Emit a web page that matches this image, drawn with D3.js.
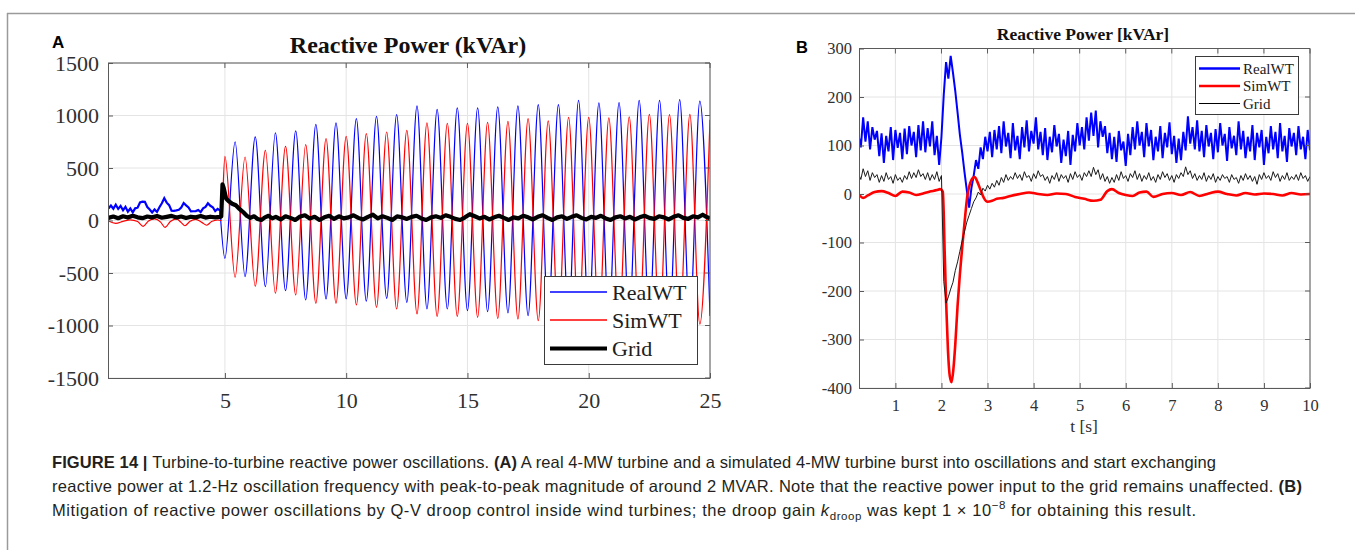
<!DOCTYPE html>
<html>
<head>
<meta charset="utf-8">
<script src="https://cdn.jsdelivr.net/npm/d3@7"></script>
<style>
  body { margin: 0; background: #fff; }
  svg { display: block; }
</style>
</head>
<body>
<script>

// ---------- Panel A data (kVAr vs s) ----------
// RealWT before the event, one value every 0.1 s from 0.2 s
const aPreStart = 0.2, aPreStep = 0.1
const realPreA = [115, 142, 112, 150, 110, 138, 98, 130, 84, 114, 78, 116, 122, 172, 180, 178, 128, 104, 76, 106,
  82, 126, 164, 212, 170, 146, 94, 92, 96, 102, 124, 166, 144, 124, 86, 88, 90, 100, 80, 116,
  130, 164, 140, 126, 90, 110, 96]
const simPreA = [[0.2, -5], [0.5, -28], [0.8, -8], [1.1, 6], [1.4, -10], [1.63, -55], [1.85, -5], [2.1, 15], [2.35, -15],
  [2.53, -65], [2.75, -10], [3.0, 15], [3.2, -20], [3.35, -50], [3.55, -10], [3.8, 10], [4.05, -18], [4.25, -45],
  [4.45, -10], [4.7, 5], [4.85, 0]]
// turning points of the oscillation (peaks and troughs)
const extT = [5.00, 5.42, 5.83, 6.25, 6.67, 7.08, 7.50, 7.92, 8.33, 8.75, 9.17, 9.58, 10.00, 10.42, 10.83, 11.25,
  11.67, 12.08, 12.50, 12.92, 13.33, 13.75, 14.17, 14.58, 15.00, 15.42, 15.83, 16.25, 16.67, 17.08, 17.50, 17.92,
  18.33, 18.75, 19.17, 19.58, 20.00, 20.42, 20.83, 21.25, 21.67, 22.08, 22.50, 22.92, 23.33, 23.75, 24.17, 24.58, 25.00]
const realExtA = [-360, 748, -534, 796, -630, 834, -668, 853, -757, 916, -747, 929, -747, 970, -768, 992,
  -741, 1008, -779, 1091, -843, 1059, -843, 1072, -859, 1072, -868, 1082, -880, 1091, -906, 1104,
  -910, 1104, -915, 1145, -920, 1120, -925, 1123, -930, 1145, -930, 1145, -935, 1152, -935, 1136, -910]
const simExtA = [610, -540, 605, -626, 668, -693, 706, -709, 722, -788, 780, -788, 802, -804, 827, -826,
  843, -843, 859, -890, 929, -913, 925, -913, 925, -922, 935, -932, 945, -938, 970, -954,
  948, -960, 983, -965, 983, -970, 977, -975, 986, -978, 1011, -980, 1008, -982, 1011, -986, 960]
const gridA = [[0.2, 25], [0.4, 38], [0.6, 22], [0.8, 40], [1.0, 28], [1.2, 45], [1.4, 30], [1.6, 22], [1.8, 38],
  [2.0, 30], [2.2, 42], [2.4, 26], [2.6, 35], [2.8, 44], [3.0, 28], [3.2, 38], [3.4, 24], [3.6, 36], [3.8, 30],
  [4.0, 42], [4.2, 28], [4.4, 36], [4.6, 30], [4.8, 34], [4.85, 40], [4.9, 345], [4.95, 310], [5.05, 210],
  [5.15, 185], [5.3, 160], [5.45, 145], [5.6, 110], [5.75, 80], [5.9, 45], [6.05, 25], [6.2, 40], [6.35, 15],
  [6.5, 5], [6.65, 30], [6.8, 45], [6.95, 20], [7.1, 35], [7.3, 10], [7.5, 40], [7.7, 25], [7.9, 5], [8.1, 38],
  [8.3, 50], [8.5, 20], [8.7, 35], [8.9, 5], [9.1, 30], [9.3, 45], [9.5, 15], [9.7, 40], [9.9, 20], [10.1, 30],
  [10.3, 50], [10.5, 25], [10.7, 10], [10.9, 35], [11.1, 55], [11.3, 20], [11.5, 40], [11.7, 25], [11.9, 5],
  [12.1, 40], [12.3, 30], [12.5, 15], [12.7, 35], [12.9, 45], [13.1, 20], [13.3, 5], [13.5, 30], [13.7, 40],
  [13.9, 25], [14.1, 50], [14.3, 35], [14.5, 15], [14.7, 5], [14.9, 30], [15.1, 60], [15.3, 40], [15.5, 20],
  [15.7, 35], [15.9, 10], [16.1, 30], [16.3, 45], [16.5, 25], [16.7, 5], [16.9, 30], [17.1, 20], [17.3, 45],
  [17.5, 30], [17.7, 10], [17.9, 35], [18.1, 50], [18.3, 25], [18.5, 5], [18.7, 30], [18.9, 40], [19.1, 15],
  [19.3, 35], [19.5, 50], [19.7, 25], [19.9, 10], [20.1, 35], [20.3, 25], [20.5, 45], [20.7, 20], [20.9, 5],
  [21.1, 30], [21.3, 40], [21.5, 20], [21.7, 35], [21.9, 10], [22.1, 30], [22.3, 45], [22.5, 25], [22.7, 15],
  [22.9, 40], [23.1, 30], [23.3, 10], [23.5, 35], [23.7, 50], [23.9, 25], [24.1, 15], [24.3, 40], [24.5, 30],
  [24.7, 55], [24.85, 35], [25.0, 20]]
const xTicksA = [5, 10, 15, 20, 25]
const yTicksA = [-1500, -1000, -500, 0, 500, 1000, 1500]

// ---------- Panel B data, one sample every 0.05 s from 0.2 s ----------
const bStart = 0.2, bStep = 0.05
const realB = [
  122, 96, 158, 108, 150, 92, 138, 112, 130, 78,
  125, 64, 120, 88, 138, 70, 132, 95, 126, 72,
  135, 82, 140, 100, 128, 76, 142, 90, 150, 86,
  136, 98, 150, 80, 120, 60, 118, 205, 272, 238,
  285, 250, 212, 168, 122, 86, 45, 8, -28, 12,
  38, 70, 52, 96, 72, 118, 88, 128, 76, 132,
  92, 140, 84, 150, 98, 126, 74, 146, 90, 120,
  72, 138, 96, 152, 88, 130, 104, 158, 92, 128,
  80, 136, 70, 118, 86, 142, 98, 124, 64, 112,
  78, 130, 60, 122, 88, 146, 100, 138, 92, 158,
  110, 168, 120, 172, 96, 150, 118, 140, 84, 126,
  72, 118, 66, 130, 90, 108, 58, 124, 80, 138,
  92, 150, 100, 128, 76, 146, 98, 132, 70, 118,
  88, 140, 74, 126, 96, 148, 82, 120, 64, 114,
  70, 128, 90, 160, 104, 138, 92, 152, 88, 130,
  76, 142, 98, 126, 72, 134, 86, 146, 100, 124,
  68, 138, 94, 120, 80, 150, 92, 130, 74, 118,
  88, 142, 70, 126, 96, 132, 60, 118, 84, 140,
  92, 128, 74, 146, 88, 120, 66, 136, 98, 126,
  80, 140, 92, 118, 72, 132, 90]
const gridB = [
  42, 30, 52, 36, 48, 28, 44, 34, 40, 24,
  38, 26, 44, 30, 36, 22, 40, 28, 34, 24,
  38, 30, 46, 32, 44, 34, 50, 36, 42, 30,
  44, 28, 40, 30, 46, 26, 38, -180, -225, -212,
  -196, -182, -158, -140, -118, -96, -78, -58, -44, -30,
  -16, -8, 4, -2, 12, 6, 18, 10, 22, 14,
  28, 18, 34, 24, 40, 28, 36, 30, 44, 32,
  40, 28, 46, 34, 38, 26, 42, 32, 48, 36,
  40, 28, 36, 22, 38, 30, 44, 26, 40, 32,
  38, 24, 42, 30, 46, 34, 40, 28, 44, 36,
  48, 36, 55, 40, 50, 30, 42, 26, 36, 22,
  34, 24, 40, 28, 46, 32, 38, 26, 42, 34,
  48, 30, 42, 26, 38, 30, 44, 28, 36, 24,
  40, 30, 46, 34, 42, 28, 38, 24, 40, 32,
  44, 36, 56, 40, 48, 32, 42, 28, 38, 30,
  44, 26, 38, 30, 42, 24, 36, 28, 40, 32,
  36, 24, 40, 30, 34, 22, 38, 28, 42, 30,
  38, 26, 36, 20, 40, 30, 44, 32, 38, 28,
  46, 34, 42, 26, 38, 30, 44, 28, 36, 30,
  40, 28, 44, 32, 38, 26, 36]
const simB = [[0.2, 0], [0.3, -8], [0.4, -3], [0.55, 4], [0.7, 6], [0.85, 2], [1.0, -4], [1.15, 5], [1.3, 3],
  [1.45, -2], [1.6, 1], [1.75, 5], [1.9, 8], [1.97, 10], [2.03, 5], [2.07, -120], [2.1, -220], [2.14, -320],
  [2.18, -375], [2.22, -388], [2.26, -360], [2.3, -310], [2.35, -230], [2.4, -165], [2.45, -110], [2.5, -60],
  [2.56, -5], [2.62, 22], [2.68, 33], [2.72, 35], [2.78, 25], [2.85, 8], [2.92, -8], [3.0, -16], [3.1, -14],
  [3.2, -10], [3.35, -8], [3.5, -4], [3.7, 0], [3.9, 3], [4.1, 0], [4.3, -2], [4.5, 1], [4.7, 0], [4.9, -6],
  [5.1, -10], [5.3, -14], [5.45, -12], [5.6, 6], [5.7, 10], [5.85, 2], [6.0, -2], [6.15, -4], [6.3, 3], [6.45, 5],
  [6.6, -6], [6.8, 0], [7.0, 2], [7.2, -2], [7.4, 4], [7.6, -4], [7.8, 1], [8.0, 5], [8.2, 0], [8.4, -3],
  [8.6, 2], [8.8, -1], [9.0, 1], [9.2, 0], [9.4, -3], [9.6, 2], [9.8, -1], [10.0, 0]]
const xTicksB = [1, 2, 3, 4, 5, 6, 7, 8, 9, 10]
const yTicksB = [-400, -300, -200, -100, 0, 100, 200, 300]

const seriesNames = ["RealWT", "SimWT", "Grid"]
const seriesColors = ["#0000ff", "#ff0000", "#000000"]

// ---------- build ----------
const svg = d3.select("body").append("svg")
  .attr("width", 1355)
  .attr("height", 550)
  .style("font-family", "'Liberation Serif', 'Times New Roman', serif")

// figure frame
svg.append("line").attr("x1", 7.5).attr("x2", 7.5).attr("y1", 13).attr("y2", 550)
  .attr("stroke", "#9a9a9a").attr("stroke-width", 1.5)
svg.append("line").attr("x1", 7).attr("x2", 1355).attr("y1", 13.5).attr("y2", 13.5)
  .attr("stroke", "#9a9a9a").attr("stroke-width", 1.5)

const plain = d => String(d)

function panel(id, x, y, xTicks, yTicks, fs, xPad, yPad) {
  const [x0, x1] = x.range()
  const [y0, y1] = y.range()
  const g = svg.append("g")

  g.append("defs").append("clipPath").attr("id", id)
    .append("rect").attr("x", x0).attr("y", y1).attr("width", x1 - x0).attr("height", y0 - y1)

  // grid
  g.append("g").selectAll("line").data(xTicks).join("line")
    .attr("x1", d => x(d)).attr("x2", d => x(d)).attr("y1", y0).attr("y2", y1)
    .attr("stroke", "#e4e4e4")
  g.append("g").selectAll("line").data(yTicks).join("line")
    .attr("x1", x0).attr("x2", x1).attr("y1", d => y(d)).attr("y2", d => y(d))
    .attr("stroke", "#e4e4e4")

  const data = g.append("g").attr("clip-path", `url(#${id})`)

  function axes() {
    const ax = svg.append("g")
    ax.append("g").attr("transform", `translate(0,${y0})`)
      .call(d3.axisBottom(x).tickValues(xTicks).tickFormat(plain)
        .tickSizeInner(-5).tickSizeOuter(0).tickPadding(xPad))
    ax.append("g").attr("transform", `translate(${x0},0)`)
      .call(d3.axisLeft(y).tickValues(yTicks).tickFormat(plain)
        .tickSizeInner(-5).tickSizeOuter(0).tickPadding(yPad))
    ax.selectAll(".tick text")
      .attr("font-family", "'Liberation Serif', 'Times New Roman', serif")
      .attr("font-size", fs).attr("fill", "#303030")
    ax.selectAll(".domain, .tick line").attr("stroke", "#5a5a5a")
    // top and right box edges with inward ticks
    ax.append("path").attr("d", `M${x0},${y1}H${x1}V${y0}`).attr("fill", "none").attr("stroke", "#5a5a5a")
    ax.append("g").selectAll("line").data(xTicks).join("line")
      .attr("x1", d => x(d)).attr("x2", d => x(d)).attr("y1", y1).attr("y2", y1 + 5).attr("stroke", "#5a5a5a")
    ax.append("g").selectAll("line").data(yTicks).join("line")
      .attr("x1", x1).attr("x2", x1 - 5).attr("y1", d => y(d)).attr("y2", d => y(d)).attr("stroke", "#5a5a5a")
    return ax
  }
  return { g, data, axes }
}

function legend(x0, y0, w, h, rows, lineX, lineW, textX, fs, widths) {
  const lg = svg.append("g")
  lg.append("rect").attr("x", x0).attr("y", y0).attr("width", w).attr("height", h)
    .attr("fill", "#fff").attr("stroke", "#3a3a3a").attr("stroke-width", 1)
  seriesNames.forEach((name, i) => {
    lg.append("line").attr("x1", lineX).attr("x2", lineX + lineW).attr("y1", rows[i]).attr("y2", rows[i])
      .attr("stroke", seriesColors[i]).attr("stroke-width", widths[i])
    lg.append("text").attr("x", textX).attr("y", rows[i]).attr("dy", "0.35em")
      .attr("font-size", fs).attr("fill", "#202020").text(name)
  })
}

// ---------- Panel A ----------
const xA = d3.scaleLinear().domain([0.18, 25]).range([108, 710])
const yA = d3.scaleLinear().domain([-1500, 1500]).range([378, 63])
const pA = panel("clipA", xA, yA, xTicksA, yTicksA, 22, 14, 9)

const lineA = d3.line().x(d => xA(d[0])).y(d => yA(d[1]))
const preReal = realPreA.map((v, i) => [aPreStart + i * aPreStep, v])
const oscReal = extT.map((t, i) => [t, realExtA[i]])
const oscSim = extT.map((t, i) => [t, simExtA[i]])

pA.data.append("path").datum(preReal)
  .attr("d", lineA.curve(d3.curveLinear)).attr("fill", "none")
  .attr("stroke", seriesColors[0]).attr("stroke-width", 2.2)
pA.data.append("path").datum([preReal[preReal.length - 1]].concat(oscReal))
  .attr("d", lineA.curve(d3.curveMonotoneX)).attr("fill", "none")
  .attr("stroke", seriesColors[0]).attr("stroke-width", 1.2)
pA.data.append("path").datum(simPreA.concat(oscSim))
  .attr("d", lineA.curve(d3.curveMonotoneX)).attr("fill", "none")
  .attr("stroke", seriesColors[1]).attr("stroke-width", 1.2)
pA.data.append("path").datum(gridA)
  .attr("d", lineA.curve(d3.curveLinear)).attr("fill", "none")
  .attr("stroke", seriesColors[2]).attr("stroke-width", 4.2).attr("stroke-linejoin", "round")
pA.axes()

svg.append("text").attr("x", 408).attr("y", 53).attr("text-anchor", "middle")
  .attr("font-size", 24).attr("font-weight", "bold").attr("fill", "#111")
  .text("Reactive Power (kVAr)")
svg.append("text").attr("x", 52).attr("y", 48)
  .attr("font-family", "'Liberation Sans', Arial, sans-serif")
  .attr("font-size", 17).attr("font-weight", "bold").text("A")

legend(544.5, 276.5, 153, 88, [292, 320, 348.5], 550, 57, 612, 22, [1.5, 1.5, 4.2])

// ---------- Panel B ----------
const xB = d3.scaleLinear().domain([0.21, 10]).range([859, 1310])
const yB = d3.scaleLinear().domain([-400, 300]).range([388, 48.5])
const pB = panel("clipB", xB, yB, xTicksB, yTicksB, 16.5, 11.5, 7)

const lineB = d3.line().x(d => xB(d[0])).y(d => yB(d[1]))
const realBPts = realB.map((v, i) => [bStart + i * bStep, v])
const gridBPts = gridB.map((v, i) => [bStart + i * bStep, v])

pB.data.append("path").datum(realBPts)
  .attr("d", lineB.curve(d3.curveLinear)).attr("fill", "none")
  .attr("stroke", seriesColors[0]).attr("stroke-width", 2)
pB.data.append("path").datum(simB)
  .attr("d", lineB.curve(d3.curveMonotoneX)).attr("fill", "none")
  .attr("stroke", seriesColors[1]).attr("stroke-width", 2.6)
pB.data.append("path").datum(gridBPts)
  .attr("d", lineB.curve(d3.curveLinear)).attr("fill", "none")
  .attr("stroke", "#1a1a1a").attr("stroke-width", 1)
pB.axes()

svg.append("text").attr("x", 1083).attr("y", 40).attr("text-anchor", "middle")
  .attr("font-size", 17.5).attr("font-weight", "bold").attr("fill", "#111")
  .text("Reactive Power [kVAr]")
svg.append("text").attr("x", 1084).attr("y", 432).attr("text-anchor", "middle")
  .attr("font-size", 17.5).attr("fill", "#303030").text("t [s]")
svg.append("text").attr("x", 796).attr("y", 53)
  .attr("font-family", "'Liberation Sans', Arial, sans-serif")
  .attr("font-size", 16.5).attr("font-weight", "bold").text("B")

legend(1195.5, 56.5, 103, 58, [68.5, 86, 103.5], 1199, 41, 1243, 15, [2.6, 2.6, 1])

// ---------- caption ----------
const cap = svg.append("g")
  .attr("font-family", "'Liberation Sans Narrow', 'Liberation Sans', Arial, sans-serif")
  .attr("font-size", 16.5).attr("fill", "#231f20")

const l1 = cap.append("text").attr("x", 52).attr("y", 468).attr("textLength", 1164)
l1.append("tspan").attr("font-weight", "bold").text("FIGURE 14 | ")
l1.append("tspan").text("Turbine-to-turbine reactive power oscillations. ")
l1.append("tspan").attr("font-weight", "bold").text("(A)")
l1.append("tspan").text(" A real 4-MW turbine and a simulated 4-MW turbine burst into oscillations and start exchanging")

const l2 = cap.append("text").attr("x", 52).attr("y", 492).attr("textLength", 1250)
l2.append("tspan").text("reactive power at 1.2-Hz oscillation frequency with peak-to-peak magnitude of around 2 MVAR. Note that the reactive power input to the grid remains unaffected. ")
l2.append("tspan").attr("font-weight", "bold").text("(B)")

const l3 = cap.append("text").attr("x", 52).attr("y", 516).attr("textLength", 1144)
l3.append("tspan").text("Mitigation of reactive power oscillations by Q-V droop control inside wind turbines; the droop gain ")
l3.append("tspan").attr("font-style", "italic").text("k")
l3.append("tspan").attr("font-size", 11.5).attr("dy", 4).text("droop")
l3.append("tspan").attr("dy", -4).text(" was kept 1 \u00d7 10")
l3.append("tspan").attr("font-size", 11.5).attr("dy", -7).text("\u22128")
l3.append("tspan").attr("dy", 7).text(" for obtaining this result.")

</script>
</body>
</html>
